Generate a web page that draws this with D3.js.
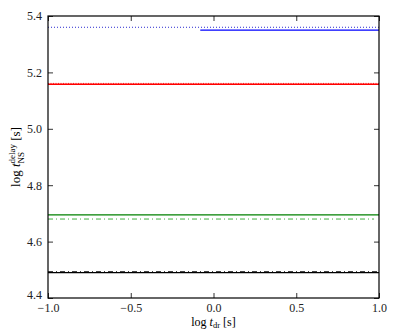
<!DOCTYPE html>
<html>
<head>
<meta charset="utf-8">
<script src="https://cdn.jsdelivr.net/npm/d3@7"></script>
<style>
  body { margin: 0; background: #fff; }
  text { font-family: "Liberation Serif", "DejaVu Serif", serif; }
</style>
</head>
<body>
<div id="chart"></div>
<script>
var width = 399, height = 332;
var margin = {top: 16, right: 20, bottom: 34, left: 48};

// horizontal reference levels (log t_NS^delay)
var lineNames  = ["blueDot", "blueSolid", "redDot", "redSolid", "greenSolid", "greenDashDot", "blackDashDot", "blackSolid"];
var lineValues = [5.360, 5.350, 5.161, 5.158, 4.695, 4.680, 4.493, 4.490];
var lineStarts = [-1.0, -0.08, -1.0, -1.0, -1.0, -1.0, -1.0, -1.0];
var lineEnds   = [1.0, 1.0, 1.0, 1.0, 1.0, 0.97, 1.0, 1.0];
var lineColors = ["#2a2ad0", "blue", "#ff3030", "red", "#008000", "#40b040", "black", "black"];
var lineDash   = ["1,2", null, "1,1.5", null, null, "5,3,1,3", "5,3,1,3", null];
var lineWidths = [1, 1.3, 1, 1.3, 1.3, 1, 1, 1.3];

var xTicks = [-1.0, -0.5, 0.0, 0.5, 1.0];
var yTicks = [4.4, 4.6, 4.8, 5.0, 5.2, 5.4];

var pw = width - margin.left - margin.right;
var ph = height - margin.top - margin.bottom;

var svg = d3.select("#chart").append("svg")
  .attr("width", width).attr("height", height);

var g = svg.append("g")
  .attr("transform", "translate(" + margin.left + "," + margin.top + ")");

var x = d3.scaleLinear().domain([-1, 1]).range([0, pw]);
var y = d3.scaleLinear().domain([4.4, 5.4]).range([ph, 0]);

var fmt = d3.format(".1f");
var minus = function(v) { return fmt(v).replace("-", "\u2212"); };

// lines
g.selectAll("line.level")
  .data(lineValues)
  .enter().append("line")
  .attr("class", "level")
  .attr("x1", (d, i) => x(lineStarts[i]))
  .attr("x2", (d, i) => x(lineEnds[i]))
  .attr("y1", d => y(d))
  .attr("y2", d => y(d))
  .attr("stroke", (d, i) => lineColors[i])
  .attr("stroke-width", (d, i) => lineWidths[i])
  .attr("stroke-dasharray", (d, i) => lineDash[i]);

// axes, matplotlib classic: ticks inside, mirrored
var tickLen = 5;
g.append("g").attr("transform", "translate(0," + ph + ")")
  .call(d3.axisBottom(x).tickValues(xTicks).tickFormat(minus).tickSizeInner(-tickLen).tickSizeOuter(0).tickPadding(5));
g.append("g")
  .call(d3.axisTop(x).tickValues(xTicks).tickFormat("").tickSizeInner(-tickLen).tickSizeOuter(0));
var yAxisG = g.append("g")
  .call(d3.axisLeft(y).tickValues(yTicks).tickFormat(fmt).tickSizeInner(-tickLen).tickSizeOuter(0).tickPadding(6));
g.append("g").attr("transform", "translate(" + pw + ",0)")
  .call(d3.axisRight(y).tickValues(yTicks).tickFormat("").tickSizeInner(-tickLen).tickSizeOuter(0));

g.selectAll(".domain").remove();
g.selectAll(".tick text").attr("font-size", 12).attr("fill", "#222")
  .style("font-family", "'Liberation Serif', serif");
g.selectAll(".tick line").attr("stroke", "#333");
// keep the corner labels apart
yAxisG.selectAll(".tick text").filter(d => d === 4.4).attr("dy", "0.05em");

g.append("rect")
  .attr("width", pw).attr("height", ph)
  .attr("fill", "none").attr("stroke", "black").attr("stroke-width", 1.2);

// labels
var xl = svg.append("text")
  .attr("x", margin.left + pw / 2).attr("y", height - 6)
  .attr("text-anchor", "middle").attr("font-size", 12);
xl.append("tspan").text("log ");
xl.append("tspan").attr("font-style", "italic").text("t");
xl.append("tspan").attr("font-size", 8.5).attr("dy", 2).text("dr");
xl.append("tspan").attr("dy", -2).text(" [s]");

var yl = svg.append("text")
  .attr("transform", "translate(20," + (margin.top + ph / 2) + ") rotate(-90)")
  .attr("text-anchor", "middle").attr("font-size", 13);
yl.append("tspan").text("log ");
yl.append("tspan").attr("font-style", "italic").text("t");
var sup = yl.append("tspan").attr("font-size", 9).attr("dy", -5).text("delay");
var supW = sup.node().getComputedTextLength();
var sub = yl.append("tspan").attr("font-size", 9).attr("dx", -supW).attr("dy", 9).text("NS");
var subW = sub.node().getComputedTextLength();
yl.append("tspan").attr("dx", supW - subW).attr("dy", -4).text(" [s]");
</script>
</body>
</html>
